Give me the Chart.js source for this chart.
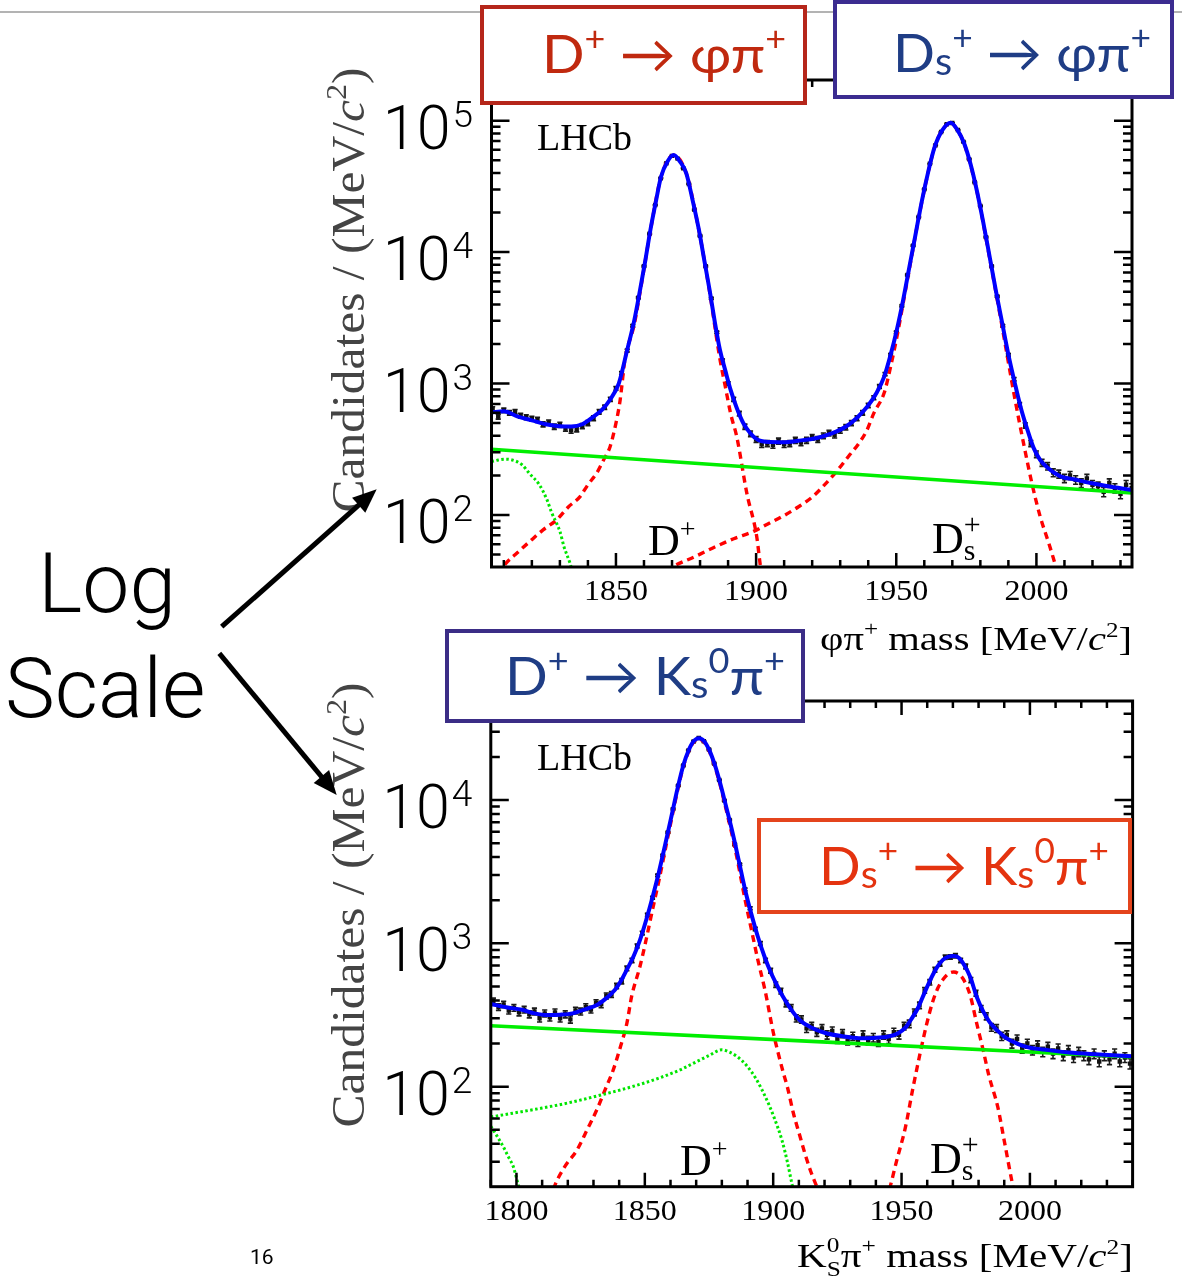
<!DOCTYPE html>
<html><head><meta charset="utf-8">
<script src="https://cdn.jsdelivr.net/npm/chart.js@4.4.1/dist/chart.umd.min.js"></script>
<style>
html,body{margin:0;padding:0;background:#fff;}
#page{position:relative;width:1182px;height:1281px;overflow:hidden;background:#fff;}
canvas{position:absolute;left:0;top:0;}
#overlay{position:absolute;left:0;top:0;z-index:5;}
</style></head><body><div id="page">
<canvas id="cTop" width="1182" height="1281"></canvas>
<canvas id="cBot" width="1182" height="1281"></canvas>
<svg id="overlay" width="1182" height="1281" xmlns="http://www.w3.org/2000/svg">
  <rect x="0" y="11" width="1182" height="2" fill="#b3b3b3"/>
  <g font-family="Lato,'Open Sans',sans-serif">
    <rect x="482" y="7" width="323" height="96" fill="#fff" stroke="#b5261a" stroke-width="4"/>
    <text x="542" y="73" font-size="53" fill="#c0290f" textLength="244" lengthAdjust="spacingAndGlyphs">D<tspan font-size="34" dy="-22">+</tspan><tspan font-size="53" dy="22"> → φπ</tspan><tspan font-size="34" dy="-22">+</tspan></text>
    <rect x="835" y="2" width="337" height="95" fill="#fff" stroke="#3b2c90" stroke-width="4"/>
    <text x="893" y="72" font-size="53" fill="#1f3d85" textLength="258" lengthAdjust="spacingAndGlyphs">D<tspan font-size="38" dy="3">s</tspan><tspan font-size="34" dy="-25">+</tspan><tspan font-size="53" dy="22"> → φπ</tspan><tspan font-size="34" dy="-22">+</tspan></text>
    <rect x="447" y="631" width="356" height="90" fill="#fff" stroke="#3b2d86" stroke-width="4"/>
    <text x="505" y="695" font-size="53" fill="#1f3d85" textLength="280" lengthAdjust="spacingAndGlyphs">D<tspan font-size="34" dy="-22">+</tspan><tspan font-size="53" dy="22"> → K</tspan><tspan font-size="38" dy="3">s</tspan><tspan font-size="34" dy="-25">0</tspan><tspan font-size="53" dy="22">π</tspan><tspan font-size="34" dy="-22">+</tspan></text>
    <rect x="759" y="820" width="371" height="92" fill="#fff" stroke="#e4441c" stroke-width="4"/>
    <text x="819" y="885" font-size="53" fill="#e4330f" textLength="290" lengthAdjust="spacingAndGlyphs">D<tspan font-size="38" dy="3">s</tspan><tspan font-size="34" dy="-25">+</tspan><tspan font-size="53" dy="22"> → K</tspan><tspan font-size="38" dy="3">s</tspan><tspan font-size="34" dy="-25">0</tspan><tspan font-size="53" dy="22">π</tspan><tspan font-size="34" dy="-22">+</tspan></text>
  </g>
  <g font-family="Roboto,'Liberation Sans',Arial,sans-serif" font-weight="300" fill="#000">
    <text x="38" y="612" font-size="84">Log</text>
    <text x="5" y="717" font-size="84">Scale</text>
    <text x="250" y="1264" font-size="21" font-weight="400">16</text>
  </g>
  <line x1="221.7" y1="626.7" x2="360" y2="504" stroke="#000" stroke-width="5"/>
  <polygon points="376.7,489.3 365.3,512.7 352.1,497.7" fill="#000"/>
  <line x1="219.3" y1="653.3" x2="323" y2="778.5" stroke="#000" stroke-width="5"/>
  <polygon points="336.7,795 329.1,770.1 313.7,782.9" fill="#000"/>
</svg>
</div>
<script>
// ---------------- TOP CHART: phi pi+ mass ----------------
const topMass = [1806,1808,1810,1812,1814,1816,1818,1820,1822,1824,
1826,1828,1830,1832,1834,1836,1838,1840,1842,1844,
1846,1848,1850,1852,1854,1856,1858,1860,1862,1864,
1866,1868,1870,1872,1874,1876,1878,1880,1882,1884,
1886,1888,1890,1892,1894,1896,1898,1900,1902,1904,
1906,1908,1910,1912,1914,1916,1918,1920,1922,1924,
1926,1928,1930,1932,1934,1936,1938,1940,1942,1944,
1946,1948,1950,1952,1954,1956,1958,1960,1962,1964,
1966,1968,1970,1972,1974,1976,1978,1980,1982,1984,
1986,1988,1990,1992,1994,1996,1998,2000,2002,2004,
2006,2008,2010,2012,2014,2016,2018,2020,2022,2024,
2026,2028,2030,2032,2034];
const topCounts = [640,560,625,600,610,570,555,540,530,490,
505,470,485,455,440,450,475,500,545,610,
660,760,920,1200,1780,2750,4500,7800,13800,22800,
36500,47500,54000,51500,43500,33000,21000,13300,7800,4450,
2450,1500,1000,760,590,470,415,375,345,350,
340,365,345,350,370,355,370,390,375,400,
420,405,440,465,500,545,600,680,780,950,
1180,1650,2450,3900,6700,11200,18500,30000,47000,65000,
82000,94000,96000,85000,69000,51000,34000,22500,13000,7800,
4600,2750,1650,1080,690,480,350,290,250,235,
210,205,190,200,185,175,190,170,165,150,
175,160,145,170,160];
const topFitMass = [1805.6,1810,1815,1820,1825,1830,1834,1838,1842,1845,
1848,1851,1854,1856.5,1858.6,1860.5,1862.3,1864.2,1866.1,1868.4,
1870.6,1872.8,1875.1,1877.3,1879.6,1881.5,1883.4,1885.2,1887.1,1889,
1890.9,1893,1895.4,1898,1900.6,1905,1909.6,1915,1921.7,1927,
1932.1,1936,1939.7,1943,1945.7,1948,1950.2,1952.5,1954.7,1957,
1959.2,1961.5,1963.7,1966.5,1969.4,1971.8,1974.2,1976.5,1978.7,1981,
1983.3,1985.5,1987.8,1990,1992.3,1994.5,1996.8,1999,2001.3,2004,
2008.8,2013.2,2019.3,2025,2034.1];
const topFit = [603,615,560,525,490,473,471,490,560,631,
760,1000,1800,3000,5160,8700,14800,24000,37600,49000,
54800,49000,39800,25100,14760,8700,5160,3000,1800,1260,
895,660,501,417,373,359,358,367,385,417,
471,550,668,851,1130,1660,2560,4370,7760,14100,
24900,41700,63100,85100,96600,85100,67300,46800,29700,17000,
9250,5130,2880,1660,1007,646,444,324,263,229,
196,187,175,166,155];
const topDpMass = [1808,1810.4,1815,1819.3,1824,1828.9,1833,1837.2,1840,1843.1,1845.5,1847.9,1850,1851.5,1853.2,1856.5,1858.6,1862.3,1866.1,1870.6,1875.1,1879.6,1883.4,1887.1,1889,1891,1893.1,1896.7,1900.2,1901.4,1903];
const topDp = [35,42,52,63,77,92,115,138,170,208,260,331,500,751,1515,2800,4950,14600,37400,54600,39600,14600,5000,1530,950,580,394,146,69,43,25];
const topDsMass = [1868,1870.6,1878,1885.6,1892,1899.1,1904,1909.6,1915,1920.2,1925,1929.2,1933,1936.7,1939.5,1942,1945.7,1948,1950.2,1954.7,1959.2,1963.7,1966.5,1969.4,1971.8,1974.2,1978.7,1983.3,1987.8,1990,1992.4,1995.4,1998.4,2001.3,2004.3,2006.7,2008];
const topDs = [37,40.7,48,57.5,66,75,85,98,115,138,175,221,280,352,440,596,850,1350,2250,7500,24600,63000,85000,96300,85000,67000,29500,9050,2680,1450,750,352,174,98,62,42,33];
const topBgMass = [1805.6,1915.7,2034.1];
const topBg = [316,218,147];
const topPkMass = [1805.6,1808,1810.4,1813,1816.5,1819.3,1822.5,1825.3,1827,1830,1831.5,1833.6,1835];
const topPk = [255,262,266,262,241,205,172,132,105,75,57,43,34];
const topXTicks = [1850,1900,1950,2000];
const topYTicks = [100,1000,10000,100000];
const topYExp = ['2','3','4','5'];

// ---------------- BOTTOM CHART: K0S pi+ mass ----------------
const botMass = [1791,1793,1795,1797,1799,1801,1803,1805,1807,1809,
1811,1813,1815,1817,1819,1821,1823,1825,1827,1829,
1831,1833,1835,1837,1839,1841,1843,1845,1847,1849,
1851,1853,1855,1857,1859,1861,1863,1865,1867,1869,
1871,1873,1875,1877,1879,1881,1883,1885,1887,1889,
1891,1893,1895,1897,1899,1901,1903,1905,1907,1909,
1911,1913,1915,1917,1919,1921,1923,1925,1927,1929,
1931,1933,1935,1937,1939,1941,1943,1945,1947,1949,
1951,1953,1955,1957,1959,1961,1963,1965,1967,1969,
1971,1973,1975,1977,1979,1981,1983,1985,1987,1989,
1991,1993,1995,1997,1999,2001,2003,2005,2007,2009,
2011,2013,2015,2017,2019,2021,2023,2025,2027,2029,
2031,2033,2035,2037,2039];
const botCounts = [395,360,375,340,355,330,345,320,335,300,
325,305,330,300,320,295,340,335,360,345,
385,375,430,440,505,545,670,760,960,1180,
1580,2080,2980,4100,5950,8650,12600,17400,22200,25600,
27100,25700,22500,18000,13800,9900,7250,4900,3550,2380,
1760,1260,1000,760,645,515,465,380,355,300,
295,255,265,240,255,230,245,215,235,210,
225,205,230,210,220,205,230,215,240,230,
265,275,330,370,470,535,655,720,800,805,
820,760,690,555,450,350,310,260,255,225,
230,200,215,185,200,180,195,175,190,170,
185,165,180,160,175,165,155,170,150,165,
155,170,150,160,145];
const botFitMass = [1790,1796,1802.2,1807,1812,1817,1821.9,1826.5,1831.7,1835,
1838.3,1841,1843.2,1845.7,1848.1,1850.5,1853,1855.5,1858,1860.5,
1862.9,1865,1867,1869,1871.1,1873.1,1875.2,1877.3,1879.3,1881.8,
1884.2,1886.7,1889.1,1891.5,1894,1896.5,1899,1901.5,1903.9,1907,
1910.5,1915,1920.3,1927,1933.4,1939,1944.9,1948.5,1951.5,1954,
1956.4,1958.9,1961.3,1963.8,1966.2,1968.3,1970.3,1972.4,1974.4,1976.8,
1979.3,1981.8,1984.3,1987.5,1990.8,1995,1999,2007,2015.4,2027,2040];
const botFit = [378,358,344,325,316,318,325,345,375,415,
472,560,666,820,1054,1450,2100,3150,4960,7900,
12400,17500,22100,25700,27000,25700,22100,17500,13200,8800,
5890,3700,2350,1600,1117,820,631,510,422,345,
290,258,237,225,218,219,224,235,258,300,
354,450,561,680,770,808,815,790,706,580,
422,335,282,245,218,200,189,180,173,168,163];
const botDpMass = [1813,1815,1819,1823.5,1827.5,1831.3,1834.5,1837.7,1840.5,1843,
1844.9,1848.1,1850.5,1853,1855.5,1858,1860.5,1862.9,1865,1867,
1869,1871.1,1873.1,1875.2,1877.3,1879.3,1881.8,1884.2,1886.7,1889.1,
1891.5,1894,1896.8,1900.1,1902,1904,1905.5,1907.9,1910,1912.4,1914.5,1917,1919];
const botDp = [16,20.6,28,36,50,69,95,131,190,277,
430,690,1060,1720,2750,4550,7500,12000,17100,21700,
25300,26600,25300,21700,17100,12800,8400,5500,3330,1990,
1250,770,472,236,170,124,100,65,48,34,26,20,16];
const botDsMass = [1944,1945.7,1948,1951.5,1954.3,1957.2,1959.6,1962.1,1964.2,1966.2,1968.3,1970.3,1972.4,1974.4,1976.8,1979.3,1981.8,1984,1987.5,1990,1993.3,1995];
const botDs = [16,20.5,30,52,95,170,265,390,490,561,615,631,610,550,430,275,180,120,72,42,20.5,15];
const botBgMass = [1790,1915,2040];
const botBg = [266,207,161];
const botPk1Mass = [1790,1800,1810,1820,1833.4,1845,1855,1863.7,1870,1875,1880,1883,1886,1889.7,1893.5,1897.5,1900.5,1903.4,1905.5,1907.3,1908.5];
const botPk1 = [61.5,66,71,77,88,100,114,131,149,165,181,174,162,140,112,81,60,42.4,30,21,17];
const botPk2Mass = [1790,1792.5,1794.9,1797,1798.8,1800.7,1802.5];
const botPk2 = [53,45,38,32,27.6,20.6,16];
const botXTicks = [1800,1850,1900,1950,2000];
const botYTicks = [100,1000,10000];
const botYExp = ['2','3','4'];

// ---------------- drawing helpers ----------------
const SERIF = '"Liberation Serif","Times New Roman",serif';
const SANS = 'Roboto,"Liberation Sans",Arial,sans-serif';
function segW(ctx, s) {
  ctx.font = s.f;
  if (s.sup !== undefined) return Math.max(ctx.measureText(s.sup).width, ctx.measureText(s.sub).width);
  return ctx.measureText(s.t).width;
}
function drawRich(ctx, segs, x, y, align, fit, color) {
  let w = 0; segs.forEach(s => w += segW(ctx, s));
  let sc = 1;
  if (fit && fit.w) sc = fit.w / w;
  if (fit && fit.sx) sc = fit.sx;
  const W = w * sc;
  const x0 = align === 'right' ? x - W : (align === 'center' ? x - W / 2 : x);
  ctx.save();
  ctx.translate(x0, y); ctx.scale(sc, 1);
  ctx.fillStyle = color || '#000'; ctx.textAlign = 'left'; ctx.textBaseline = 'alphabetic';
  let cx = 0;
  segs.forEach(s => {
    const sw = segW(ctx, s);
    ctx.font = s.f;
    if (s.sup !== undefined) { ctx.fillText(s.sup, cx, s.dysup); ctx.fillText(s.sub, cx, s.dysub); }
    else ctx.fillText(s.t, cx, s.dy || 0);
    cx += sw;
  });
  ctx.restore();
}
const F30 = '30px ' + SERIF;
const F34 = '34px ' + SERIF, F21 = '21px ' + SERIF, I34 = 'italic 34px ' + SERIF;
const yTitleSegs = [
  {t: 'Candidates / (MeV/', f: '46px ' + SERIF},
  {t: 'c', f: 'italic 46px ' + SERIF},
  {t: '2', f: '30px ' + SERIF, dy: -18},
  {t: ')', f: '46px ' + SERIF}
];

function pts(xs, ys) { return xs.map((x, i) => ({x: x, y: ys[i]})); }

function rootPlugin(cfg) {
  return {
    id: 'rootStyle',
    beforeDatasetsDraw(chart) {
      const ctx = chart.ctx, a = chart.chartArea, ys = chart.scales.y;
      const meta = chart.getDatasetMeta(0);
      ctx.save();
      ctx.beginPath(); ctx.rect(a.left, a.top, a.right - a.left, a.bottom - a.top); ctx.clip();
      ctx.strokeStyle = '#1a1a1a'; ctx.lineWidth = 1.6;
      meta.data.forEach((p, i) => {
        const v = cfg.counts[i], e = Math.sqrt(v);
        const y1 = ys.getPixelForValue(v + e), y2 = ys.getPixelForValue(Math.max(v - e, 1));
        ctx.beginPath();
        ctx.moveTo(p.x, y1); ctx.lineTo(p.x, y2);
        ctx.moveTo(p.x - 2.6, y1); ctx.lineTo(p.x + 2.6, y1);
        ctx.moveTo(p.x - 2.6, y2); ctx.lineTo(p.x + 2.6, y2);
        ctx.stroke();
      });
      ctx.restore();
    },
    afterDraw(chart) {
      const ctx = chart.ctx, a = chart.chartArea, xs = chart.scales.x, ys = chart.scales.y;
      ctx.save();
      ctx.strokeStyle = '#000'; ctx.lineWidth = 2.5; ctx.lineCap = 'butt';
      ctx.beginPath();
      for (let m = Math.ceil(xs.min / 10) * 10; m <= xs.max; m += 10) {
        const px = xs.getPixelForValue(m), L = (m % 50 === 0) ? 14 : 7;
        ctx.moveTo(px, a.bottom); ctx.lineTo(px, a.bottom - L);
        ctx.moveTo(px, a.top); ctx.lineTo(px, a.top + L);
      }
      for (let d = Math.floor(Math.log10(ys.min)); d <= Math.ceil(Math.log10(ys.max)); d++) {
        for (let k = 1; k <= 9; k++) {
          const v = k * Math.pow(10, d);
          if (v < ys.min || v > ys.max) continue;
          const py = ys.getPixelForValue(v), L = k === 1 ? 18 : 9;
          ctx.moveTo(a.left, py); ctx.lineTo(a.left + L, py);
          ctx.moveTo(a.right, py); ctx.lineTo(a.right - L, py);
        }
      }
      ctx.stroke();
      ctx.lineWidth = 3;
      ctx.strokeRect(a.left, a.top, a.right - a.left, a.bottom - a.top);
      // x tick labels
      cfg.xTicks.forEach(m => {
        drawRich(ctx, [{t: String(m), f: F30}], xs.getPixelForValue(m), a.bottom + 33, 'center', {w: 64});
      });
      // y tick labels 10^n
      cfg.yTicks.forEach((v, i) => {
        const py = ys.getPixelForValue(v);
        ctx.fillStyle = '#000'; ctx.textBaseline = 'alphabetic';
        ctx.font = '300 61px ' + SANS; ctx.textAlign = 'right';
        ctx.fillText('10', a.left - 41, py + 28);
        ctx.font = '300 37px ' + SANS; ctx.textAlign = 'left';
        ctx.fillText(cfg.yExp[i], a.left - 39, py + 6);
      });
      // axis titles
      drawRich(ctx, cfg.xTitle, cfg.xTitlePos[0], cfg.xTitlePos[1], 'right', {w: cfg.xTitlePos[2]});
      ctx.save();
      ctx.translate(364, cfg.yTitleCy); ctx.rotate(-Math.PI / 2);
      drawRich(ctx, yTitleSegs, 0, 0, 'center', {w: 445}, '#444');
      ctx.restore();
      // labels inside frame
      drawRich(ctx, [{t: 'LHCb', f: '38px ' + SERIF}], cfg.lhcb[0], cfg.lhcb[1], 'left');
      drawRich(ctx, [{t: 'D', f: '44px ' + SERIF}, {t: '+', f: '28px ' + SERIF, dy: -17}], cfg.dLab[0], cfg.dLab[1], 'left');
      drawRich(ctx, [{t: 'D', f: '44px ' + SERIF}, {sup: '+', sub: 's', f: '30px ' + SERIF, dysup: -19, dysub: 7}], cfg.dsLab[0], cfg.dsLab[1], 'left');
      ctx.restore();
    }
  };
}

function curve(label, xs, ys, color, width, dash, order, smooth) {
  return {label: label, data: pts(xs, ys), showLine: true, borderColor: color, borderWidth: width,
    borderDash: dash, pointRadius: 0, pointHoverRadius: 0, fill: false, order: order,
    cubicInterpolationMode: smooth ? 'monotone' : 'default', tension: 0, clip: 0};
}

function makeChart(id, cfg) {
  const datasets = [
    {label: 'Data', data: pts(cfg.mass, cfg.counts), showLine: false, pointStyle: 'rect', pointRadius: 3.1,
     pointBackgroundColor: '#111', pointBorderWidth: 0, order: 10, clip: 0},
    curve('D+ signal', cfg.dp[0], cfg.dp[1], '#ff0000', 3.4, [7, 5], 5, true),
    curve('Ds+ signal', cfg.ds[0], cfg.ds[1], '#ff0000', 3.4, [7, 5], 5, true),
  ];
  cfg.pk.forEach(p => datasets.push(curve('Partially reconstructed', p[0], p[1], '#00e600', 3, [2.5, 2.5], 4, true)));
  datasets.push(curve('Combinatorial', cfg.bg[0], cfg.bg[1], '#00ee00', 3.6, [], 3, false));
  datasets.push(curve('Total fit', cfg.fit[0], cfg.fit[1], '#0000ff', 4, [], 1, true));
  return new Chart(document.getElementById(id), {
    type: 'scatter',
    data: {datasets: datasets},
    options: {
      responsive: false, animation: false, devicePixelRatio: 1, events: [],
      layout: {padding: cfg.pad},
      plugins: {legend: {display: false}, tooltip: {enabled: false}},
      scales: {
        x: {type: 'linear', min: cfg.xr[0], max: cfg.xr[1], display: false},
        y: {type: 'logarithmic', min: cfg.yr[0], max: cfg.yr[1], display: false}
      }
    },
    plugins: [rootPlugin(cfg)]
  });
}

makeChart('cTop', {
  pad: {left: 491.5, top: 80, right: 50, bottom: 714},
  xr: [1805.6, 2034.1], yr: [40.2, 204000],
  mass: topMass, counts: topCounts, fit: [topFitMass, topFit],
  dp: [topDpMass, topDp], ds: [topDsMass, topDs], bg: [topBgMass, topBg], pk: [[topPkMass, topPk]],
  xTicks: topXTicks, yTicks: topYTicks, yExp: topYExp,
  xTitle: [{t: 'φπ', f: F34}, {t: '+', f: F21, dy: -14}, {t: ' mass [MeV/', f: F34}, {t: 'c', f: I34}, {t: '2', f: F21, dy: -13}, {t: ']', f: F34}],
  xTitlePos: [1132, 650, 312], yTitleCy: 290,
  lhcb: [537, 150], dLab: [648, 555], dsLab: [932, 553]
});
makeChart('cBot', {
  pad: {left: 490.8, top: 701, right: 49.4, bottom: 94.3},
  xr: [1790, 2040], yr: [20.06, 49090],
  mass: botMass, counts: botCounts, fit: [botFitMass, botFit],
  dp: [botDpMass, botDp], ds: [botDsMass, botDs], bg: [botBgMass, botBg], pk: [[botPk1Mass, botPk1], [botPk2Mass, botPk2]],
  xTicks: botXTicks, yTicks: botYTicks, yExp: botYExp,
  xTitle: [{t: 'K', f: F34}, {sup: '0', sub: 'S', f: F21, dysup: -15, dysub: 9}, {t: 'π', f: F34}, {t: '+', f: F21, dy: -14}, {t: ' mass [MeV/', f: F34}, {t: 'c', f: I34}, {t: '2', f: F21, dy: -13}, {t: ']', f: F34}],
  xTitlePos: [1133, 1267, 336], yTitleCy: 905,
  lhcb: [537, 770], dLab: [680, 1175], dsLab: [930, 1173]
});
</script>
</body></html>
